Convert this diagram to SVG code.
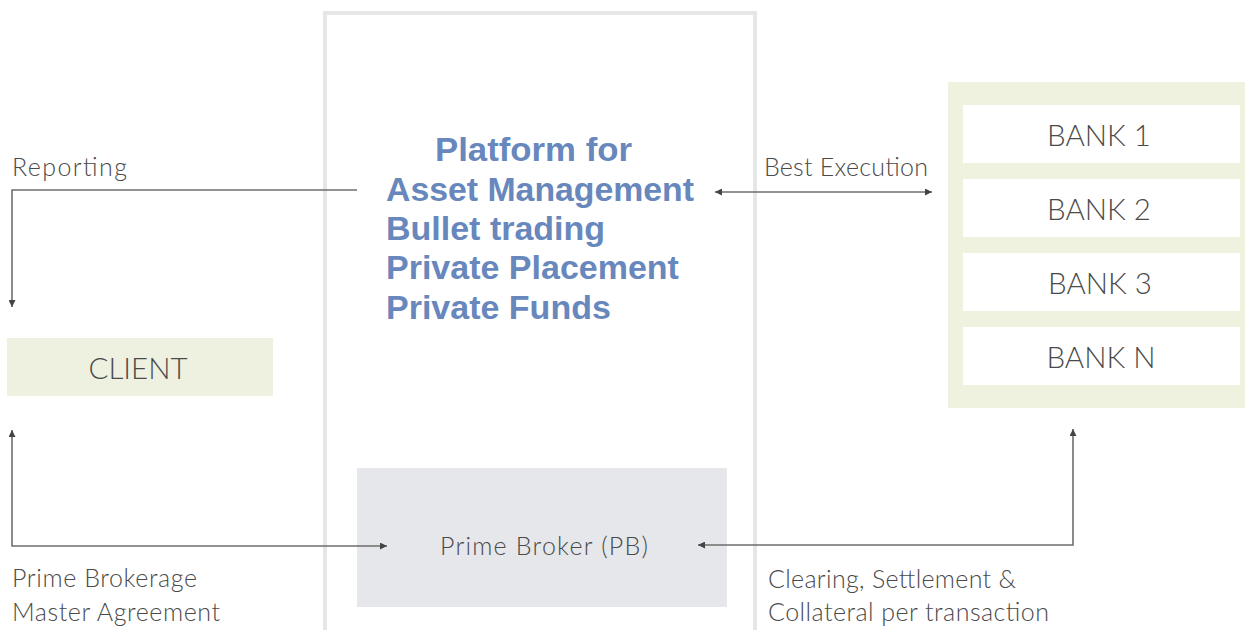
<svg xmlns="http://www.w3.org/2000/svg" width="1245" height="630" viewBox="0 0 1245 630">
<style>
.lbl{font-family:Lato,"Liberation Sans",sans-serif;font-weight:300;fill:#4a4a4a;font-size:25px}
.bank{font-family:Lato,"Liberation Sans",sans-serif;font-weight:300;fill:#4a4a4a;font-size:29.5px;text-anchor:middle}
.plat{font-family:"Liberation Sans",Arial,sans-serif;font-weight:bold;fill:#6787bd;font-size:34px}
.conn{fill:none;stroke:#6e6e6e;stroke-width:1.6}
</style>
<defs>
<marker id="ah" viewBox="0 0 10 10" refX="10" refY="5" markerWidth="10" markerHeight="7" markerUnits="userSpaceOnUse" orient="auto-start-reverse">
<path d="M0,0 L10,5 L0,10 z" fill="#444"/>
</marker>
</defs>
<rect width="1245" height="630" fill="#fff"/>
<g id="platform">
<rect x="325" y="13" width="430" height="700" fill="#fff" stroke="#e6e6e6" stroke-width="4"/>
<text class="plat" x="435" y="161" textLength="197" lengthAdjust="spacingAndGlyphs">Platform for</text>
<text class="plat" x="386" y="201" textLength="308" lengthAdjust="spacingAndGlyphs">Asset Management</text>
<text class="plat" x="386" y="240">Bullet trading</text>
<text class="plat" x="386" y="279">Private Placement</text>
<text class="plat" x="386" y="319">Private Funds</text>
</g>
<g id="client">
<rect x="7" y="338" width="266" height="58" fill="#eef1df"/>
<text class="bank" x="138" y="379">CLIENT</text>
</g>
<g id="banks">
<rect x="948" y="82" width="297" height="326" fill="#eef2df"/>
<g id="bank1"><rect x="963" y="105" width="277" height="58" fill="#fff"/><text class="bank" x="1099" y="146">BANK 1</text></g>
<g id="bank2"><rect x="963" y="179" width="277" height="58" fill="#fff"/><text class="bank" x="1099" y="220">BANK 2</text></g>
<g id="bank3"><rect x="963" y="253" width="277" height="58" fill="#fff"/><text class="bank" x="1100" y="294">BANK 3</text></g>
<g id="bankn"><rect x="963" y="327" width="277" height="58" fill="#fff"/><text class="bank" x="1101" y="368">BANK N</text></g>
</g>
<g id="pb">
<rect x="357" y="468" width="370" height="139" fill="#e6e7ea"/>
<text class="lbl" x="440" y="555" textLength="208">Prime Broker (PB)</text>
</g>
<g id="connectors">
<path class="conn" d="M357,190 H12 V307" marker-end="url(#ah)"/>
<path class="conn" d="M715,192 H932" marker-start="url(#ah)" marker-end="url(#ah)"/>
<path class="conn" d="M12,430 V546 H387" marker-start="url(#ah)" marker-end="url(#ah)"/>
<path class="conn" d="M698,545 H1073 V429" marker-start="url(#ah)" marker-end="url(#ah)"/>
</g>
<g id="labels">
<text class="lbl" x="12" y="176" textLength="115">Reporting</text>
<text class="lbl" x="764" y="176" textLength="164">Best Execution</text>
<text class="lbl" x="12" y="587" textLength="185">Prime Brokerage</text>
<text class="lbl" x="12" y="621" textLength="208">Master Agreement</text>
<text class="lbl" x="768" y="588" textLength="248">Clearing, Settlement &amp;</text>
<text class="lbl" x="768" y="621" textLength="281">Collateral per transaction</text>
</g>
</svg>
